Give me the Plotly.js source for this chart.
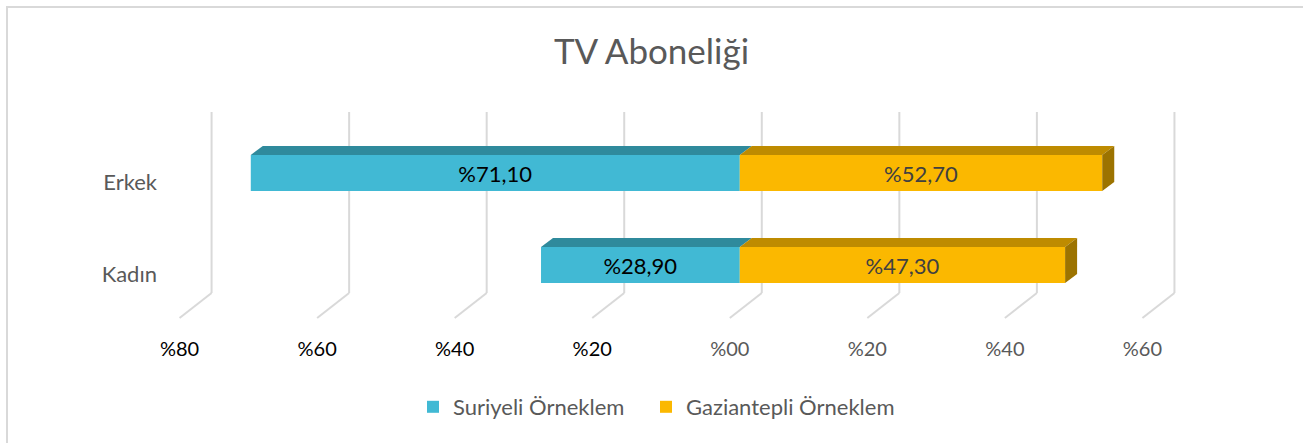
<!DOCTYPE html>
<html>
<head>
<meta charset="utf-8">
<script src="https://cdn.plot.ly/plotly-3.0.1.min.js"></script>
<style>
  html, body { margin: 0; padding: 0; background: #ffffff; }
  #wrap { position: relative; width: 1303px; height: 443px; overflow: hidden; }
  #chart { position: absolute; left: 0; top: 0; width: 1303px; height: 443px; }
  #frame { position: absolute; left: 6px; top: 6px; width: 1400px; height: 500px;
           border-top: 2px solid #D9D9D9; border-left: 2px solid #D9D9D9; pointer-events: none; }
</style>
</head>
<body>
<div id="wrap"><div id="chart"></div><div id="frame"></div></div>
<script>
// ---- data ----
const categories = ['Erkek', 'Kadın'];
const suriyeli = [71.1, 28.9];
const gaziantepli = [52.7, 47.3];
const suriyeliLabels = ['%71,10', '%28,90'];
const gaziantepliLabels = ['%52,70', '%47,30'];
const tickVals = [-80, -60, -40, -20, 0, 20, 40, 60];
const tickLabels = ['%80', '%60', '%40', '%20', '%00', '%20', '%40', '%60'];
const seriesNames = ['Suriyeli Örneklem', 'Gaziantepli Örneklem'];

// ---- style / layout constants ----
const FONT = 'Lato, "Open Sans", sans-serif';
const W = 1303, H = 443;
const X_RANGE = [-84.3, 80];
const ML = 160, MR = 13, MT = 100, MB = 108;
const PX_PER_UNIT = (W - ML - MR) / (X_RANGE[1] - X_RANGE[0]);
const PX_PER_CAT = 92;
const FIRST_CAT_PX = 173; // pixel centre of first category
const plotH = H - MT - MB;
const Y_RANGE = [(MT + plotH - FIRST_CAT_PX) / PX_PER_CAT, (MT - FIRST_CAT_PX) / PX_PER_CAT];
const BAR_W = 36 / PX_PER_CAT;
const DEPTH_X = 12 / PX_PER_UNIT;   // 3D depth offset (data units)
const DEPTH_Y = 9 / PX_PER_CAT;
const pxToY = px => (px - FIRST_CAT_PX) / PX_PER_CAT;

const COL_S = '#41B9D4', COL_S_TOP = '#2F8A9C';
const COL_G = '#FBB800', COL_G_TOP = '#BE8B00', COL_G_SIDE = '#9C7300';

const yPos = categories.map((c, i) => i);

const traces = [
  {
    type: 'bar', orientation: 'h', name: seriesNames[0], legendwidth: 188,
    y: yPos, x: suriyeli.map(v => -v), width: BAR_W,
    marker: { color: COL_S, line: { width: 0 } },
    text: suriyeliLabels, textposition: 'inside', insidetextanchor: 'middle',
    textfont: { family: FONT, size: 22, color: '#000000' },
    constraintext: 'none', hoverinfo: 'skip'
  },
  {
    type: 'bar', orientation: 'h', name: seriesNames[1],
    y: yPos, x: gaziantepli, width: BAR_W,
    marker: { color: COL_G, line: { width: 0 } },
    text: gaziantepliLabels, textposition: 'inside', insidetextanchor: 'middle',
    textfont: { family: FONT, size: 22, color: '#404040' },
    constraintext: 'none', hoverinfo: 'skip'
  }
];

// ---- gridlines (3D wall look) ----
const shapes = [];
const gTop = pxToY(112), gBend = pxToY(293), gBot = pxToY(318);
tickVals.forEach(v => {
  shapes.push({ type: 'line', layer: 'below', xref: 'x', yref: 'y', xsizemode: 'pixel', xanchor: v,
    x0: 22, x1: 22, y0: gTop, y1: gBend, line: { color: '#D9D9D9', width: 2 } });
  shapes.push({ type: 'line', layer: 'below', xref: 'x', yref: 'y', xsizemode: 'pixel', xanchor: v,
    x0: 22, x1: -10, y0: gBend, y1: gBot, line: { color: '#D9D9D9', width: 2 } });
});

// ---- 3D top / side faces computed from data ----
function topFace(a, b, yc, color) {
  const yf = yc - BAR_W / 2, yb = yf - DEPTH_Y;
  return { type: 'path', layer: 'above', xref: 'x', yref: 'y', fillcolor: color, line: { width: 0 },
    path: `M${a},${yf} L${b},${yf} L${b + DEPTH_X},${yb} L${a + DEPTH_X},${yb} Z` };
}
function sideFace(b, yc, color) {
  const yf1 = yc - BAR_W / 2, yf2 = yc + BAR_W / 2;
  return { type: 'path', layer: 'above', xref: 'x', yref: 'y', fillcolor: color, line: { width: 0 },
    path: `M${b},${yf1} L${b + DEPTH_X},${yf1 - DEPTH_Y} L${b + DEPTH_X},${yf2 - DEPTH_Y} L${b},${yf2} Z` };
}
yPos.forEach((y, i) => {
  shapes.push(topFace(-suriyeli[i], 0, y, COL_S_TOP));
  shapes.push(topFace(0, gaziantepli[i], y, COL_G_TOP));
  shapes.push(sideFace(gaziantepli[i], y, COL_G_SIDE));
});

const tickText = tickLabels.map((t, i) =>
  `<span style="color:${tickVals[i] < 0 ? '#000000' : '#595959'}">${t}</span>`);

const layout = {
  width: W, height: H,
  margin: { l: ML, r: MR, t: MT, b: MB, pad: 0 },
  paper_bgcolor: '#ffffff', plot_bgcolor: 'rgba(0,0,0,0)',
  font: { family: FONT, color: '#595959' },
  barmode: 'relative',
  title: { text: 'TV Aboneliği', font: { family: FONT, size: 35, color: '#595959' },
    x: 0.5, xanchor: 'center', y: 1 - 52 / H, yanchor: 'middle', yref: 'container' },
  xaxis: {
    range: X_RANGE, tickvals: tickVals, ticktext: tickText,
    showgrid: false, zeroline: false, showline: false, ticks: '',
    tickfont: { family: FONT, size: 20, color: '#595959' },
    ticklabelshift: -10, fixedrange: true
  },
  yaxis: {
    range: Y_RANGE, tickvals: yPos, ticktext: categories,
    showgrid: false, zeroline: false, showline: false, ticks: '',
    tickfont: { family: FONT, size: 22, color: '#595959' },
    ticklabelshift: -9, ticklabelstandoff: 2, fixedrange: true
  },
  showlegend: true,
  legend: {
    orientation: 'h', x: 0.5 + 5 / W, xanchor: 'center', xref: 'container',
    y: 1 - 407 / H, yanchor: 'middle', yref: 'container',
    font: { family: FONT, size: 22, color: '#595959' },
    traceorder: 'normal', itemclick: false, itemdoubleclick: false
  },
  shapes: shapes
};

Plotly.newPlot('chart', traces, layout, { staticPlot: true, displayModeBar: false });
</script>
</body>
</html>
